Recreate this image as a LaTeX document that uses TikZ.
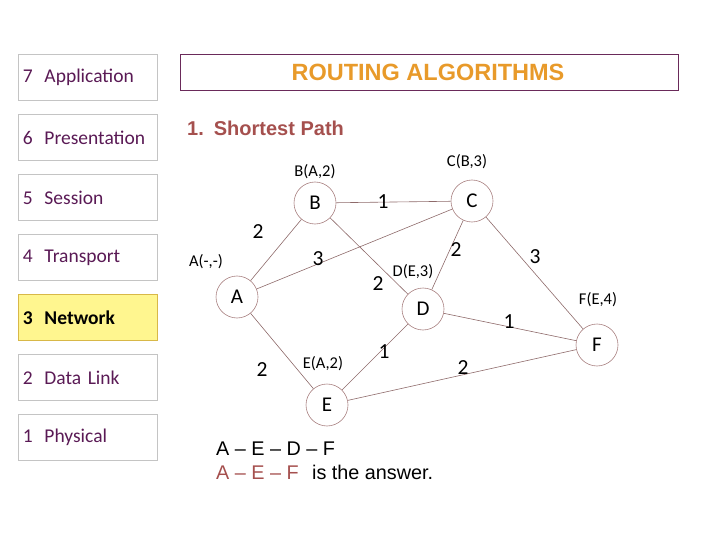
\documentclass[tikz,border=0pt]{standalone}
\usepackage{fontspec}
\setmainfont{Carlito}
\newfontfamily\arialf[Ligatures=TeX]{Liberation Sans}
\definecolor{layertxt}{HTML}{5A1A55}
\definecolor{layerbd}{HTML}{C4C4C4}
\definecolor{netfill}{HTML}{FFF68F}
\definecolor{netbd}{HTML}{D8B848}
\definecolor{titlebd}{HTML}{6A2A5A}
\definecolor{titletxt}{HTML}{E89A2A}
\definecolor{subtxt}{HTML}{A5504E}
\definecolor{edgec}{HTML}{8E6A6A}
\definecolor{circc}{HTML}{A88080}
\begin{document}
\begin{tikzpicture}[x=1pt,y=-1pt,
  layerbox/.style={draw=layerbd,line width=0.8pt,minimum width=139pt,minimum height=46pt,anchor=north west,text width=130pt,align=left,font=\fontsize{19.5}{22}\selectfont,text=layertxt,inner xsep=4pt,inner ysep=0pt},
  vert/.style={circle,draw=circc,line width=0.6pt,minimum size=42pt,inner sep=0pt,font=\fontsize{21}{24}\selectfont},
  lab/.style={font=\fontsize{16.5}{18}\selectfont,inner sep=0pt},
  wt/.style={font=\fontsize{21.5}{24}\selectfont,inner sep=0pt},
  edge/.style={draw=edgec,line width=0.6pt}]
\useasboundingbox (0,0) rectangle (720,540);
% layer boxes
\node[layerbox] (l7) at (18,54) {7\hspace{0.6em}Application};
\node[layerbox] (l6) at (18,114) {6\hspace{0.6em}Presentation};
\node[layerbox] (l5) at (18,174) {5\hspace{0.6em}Session};
\node[layerbox] (l4) at (18,234) {4\hspace{0.6em}Transport};
\node[layerbox,fill=netfill,draw=netbd,text=black,font=\fontsize{19.5}{22}\selectfont\bfseries] (l3) at (18,294) {3\hspace{0.6em}Network};
\node[layerbox] (l2) at (18,354) {2\hspace{0.6em}Data Link};
\node[layerbox] (l1) at (18,414) {1\hspace{0.6em}Physical};
% title
\node[draw=titlebd,line width=0.8pt,minimum width=498pt,minimum height=36pt,anchor=north west,inner sep=0pt] (tbox) at (180,54) {};
\node[text=titletxt,font=\arialf\bfseries\fontsize{23.5}{26}\selectfont] (title) at (428,72) {ROUTING ALGORITHMS};
\node[anchor=west,text=subtxt,font=\arialf\bfseries\fontsize{20}{22}\selectfont,inner sep=0pt] (sub) at (187,128) {1.\hspace{0.5em}Shortest Path};
% vertices
\node[vert] (A) at (237,297) {A};
\node[vert] (B) at (315,203) {B};
\node[vert] (C) at (472,201) {C};
\node[vert] (D) at (423,309) {D};
\node[vert] (E) at (327,405) {E};
\node[vert] (F) at (597,345) {F};
% edges
\path[edge] (A) -- (B);
\path[edge] (A) -- (C);
\path[edge] (B) -- (C);
\path[edge] (B) -- (D);
\path[edge] (C) -- (D);
\path[edge] (C) -- (F);
\path[edge] (D) -- (F);
\path[edge] (D) -- (E);
\path[edge] (A) -- (E);
\path[edge] (E) -- (F);
% vertex labels
\node[lab] (lA) at (206,262) {A(-,-)};
\node[lab] (lB) at (315,172) {B(A,2)};
\node[lab] (lC) at (467,162) {C(B,3)};
\node[lab] (lD) at (413,272) {D(E,3)};
\node[lab] (lE) at (323,364) {E(A,2)};
\node[lab] (lF) at (598,300) {F(E,4)};
% weights
\node[wt] (wAB) at (258,232) {2};
\node[wt] (wAC) at (318,259) {3};
\node[wt] (wBC) at (383,202) {1};
\node[wt] (wBD) at (378,284) {2};
\node[wt] (wCD) at (456,250) {2};
\node[wt] (wCF) at (535,257) {3};
\node[wt] (wDF) at (509,322) {1};
\node[wt] (wDE) at (384,352) {1};
\node[wt] (wAE) at (262,370) {2};
\node[wt] (wEF) at (463,368) {2};
% answer text
\node[anchor=west,inner sep=0pt,font=\arialf\fontsize{19.8}{22}\selectfont] (ans1) at (216,449) {A – E – D – F};
\node[anchor=west,inner sep=0pt,font=\arialf\fontsize{19.8}{22}\selectfont] (ans2) at (216,472) {\textcolor{subtxt}{A – E – F}\hspace{0.4em} is the answer.};
\end{tikzpicture}
\end{document}
